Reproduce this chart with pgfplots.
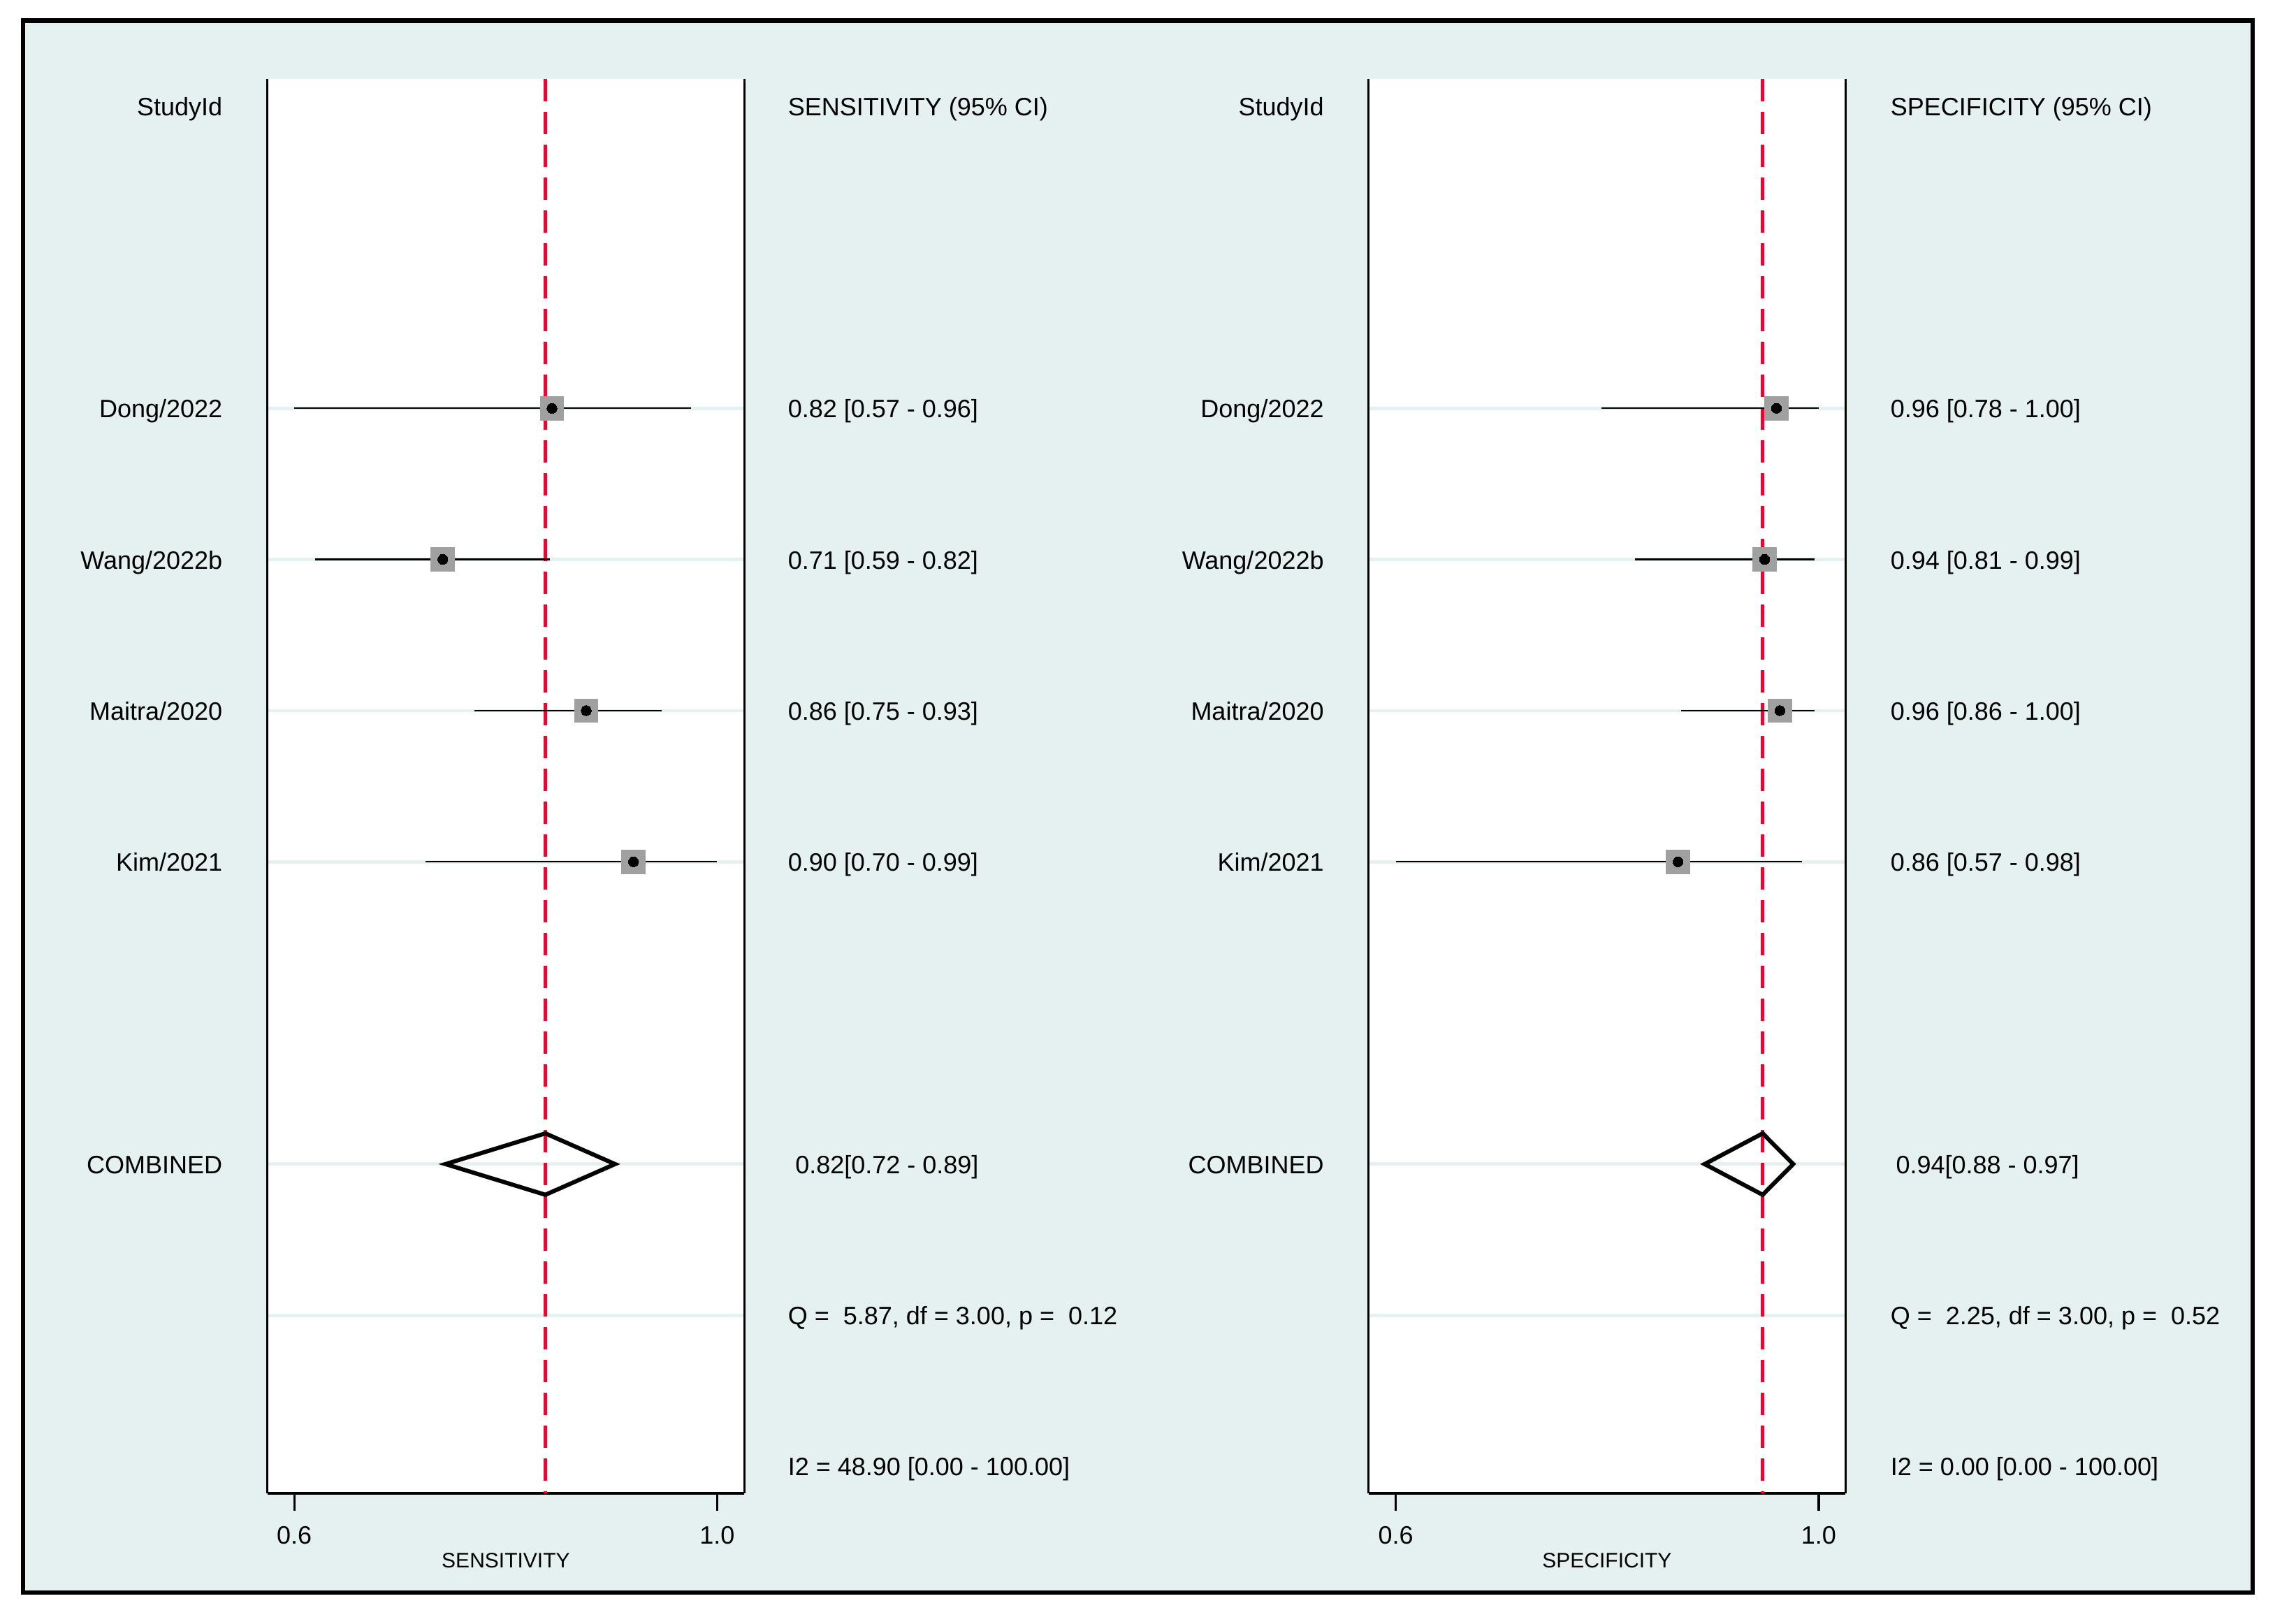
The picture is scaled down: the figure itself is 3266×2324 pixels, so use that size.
\documentclass[border=0pt]{standalone}
\usepackage{fontspec}
\setmainfont{Liberation Sans}
\usepackage{pgfplots}
\pgfplotsset{compat=1.18}
\usepackage{pgfplotstable}

\definecolor{panelbg}{RGB}{229,240,240}
\definecolor{refred}{RGB}{225,10,50}
\definecolor{boxgray}{RGB}{160,160,160}

\newcommand\fs{\fontsize{9bp}{11bp}\selectfont}
\newcommand\fss{\fontsize{7.5bp}{9bp}\selectfont}

% row: 2 = Dong/2022, 3 = Wang/2022b, 4 = Maitra/2020, 5 = Kim/2021
\pgfplotstableread{
row est lo hi
2 0.826 0.570 0.964
3 0.7175 0.591 0.824
4 0.860 0.749 0.935
5 0.907 0.700 0.990
}\sens

\pgfplotstableread{
row est lo hi
2 0.957 0.779 1.000
3 0.945 0.813 0.9955
4 0.9605 0.860 0.9957
5 0.857 0.570 0.983
}\spec

\pgfplotsset{
  forest/.style={
    scale only axis, width=170.7bp, height=506bp,
    anchor=south west,
    y dir=reverse, ymin=-0.179, ymax=9.178,
    axis x line*=bottom, axis y line*=box,
    axis line style={line width=0.85bp, black},
    axis background/.style={fill=white},
    ytick={2,3,4,5,7,8}, yticklabels={}, ytick style={draw=none},
    ymajorgrids, major grid style={draw=panelbg, line width=1.2bp},
    tick align=outside, major tick length=6.25bp,
    xtick style={black, line width=0.85bp},
    xticklabels={0.6,1.0},
    xticklabel style={font=\fs, anchor=base, inner sep=0pt, yshift=-11.9bp},
    xlabel style={font=\fss, at={(axis description cs:0.5,0)}, anchor=base,
      yshift=-26.6bp, inner sep=0pt},
  },
  ci/.style={only marks, mark=none,
    error bars/.cd, x dir=both, x explicit, error mark=none,
    error bar style={draw=black, line width=0.6bp}},
  sqmark/.style={boxgray, only marks, mark=square*, mark size=4.2bp,
    mark options={fill=boxgray, draw=boxgray, line width=0pt}},
  dotmark/.style={black, only marks, mark=*, mark size=1.8bp,
    mark options={fill=black, draw=black, line width=0pt}},
}

\begin{document}
\begin{tikzpicture}[x=0.25bp, y=0.25bp]
\fill[white] (0,0) rectangle (3266,2324);
\filldraw[fill=panelbg, draw=black, line width=1.6bp] (33,45) rectangle (3224,2294.5);

% sensitivity panel
\begin{axis}[forest, at={(95.625bp,46.75bp)}, xmin=0.54313, xmax=1.01708,
  xtick={0.57,0.99}, xlabel={SENSITIVITY}]
\addplot[refred, line width=1.2bp, dash pattern=on 8bp off 3.75bp]
  coordinates {(0.8194,-0.179) (0.8194,9.178)};
\addplot[ci] table[x=est, y=row,
  x error plus expr=\thisrow{hi}-\thisrow{est},
  x error minus expr=\thisrow{est}-\thisrow{lo}] {\sens};
\addplot[sqmark] table[x=est, y=row] {\sens};
\addplot[dotmark] table[x=est, y=row] {\sens};
\addplot[black, line width=1.5bp]
  coordinates {(0.7202,7) (0.8194,6.797) (0.8886,7) (0.8194,7.203)} -- cycle;
\end{axis}

% specificity panel
\begin{axis}[forest, at={(489.625bp,46.75bp)}, xmin=0.54223, xmax=1.02727,
  xtick={0.57,1.00}, xlabel={SPECIFICITY}]
\addplot[refred, line width=1.2bp, dash pattern=on 8bp off 3.75bp]
  coordinates {(0.943,-0.179) (0.943,9.178)};
\addplot[ci] table[x=est, y=row,
  x error plus expr=\thisrow{hi}-\thisrow{est},
  x error minus expr=\thisrow{est}-\thisrow{lo}] {\spec};
\addplot[sqmark] table[x=est, y=row] {\spec};
\addplot[dotmark] table[x=est, y=row] {\spec};
\addplot[black, line width=1.5bp]
  coordinates {(0.884,7) (0.943,6.797) (0.974,7) (0.943,7.203)} -- cycle;
\end{axis}

\begin{scope}[every node/.style={font=\fs, inner sep=0pt}]
% left text columns
\node[anchor=base east] at (319,2158.8) {StudyId};
\node[anchor=base east] at (319,1726.2) {Dong/2022};
\node[anchor=base east] at (319,1509.9) {Wang/2022b};
\node[anchor=base east] at (319,1293.6) {Maitra/2020};
\node[anchor=base east] at (319,1077.3) {Kim/2021};
\node[anchor=base east] at (319,644.7) {COMBINED};

\node[anchor=base west] at (1127,2158.8) {SENSITIVITY (95\% CI)};
\node[anchor=base west] at (1127,1726.2) {0.82 [0.57 - 0.96]};
\node[anchor=base west] at (1127,1509.9) {0.71 [0.59 - 0.82]};
\node[anchor=base west] at (1127,1293.6) {0.86 [0.75 - 0.93]};
\node[anchor=base west] at (1127,1077.3) {0.90 [0.70 - 0.99]};
\node[anchor=base west] at (1137.5,644.7) {0.82[0.72 - 0.89]};
\node[anchor=base west] at (1127,428.4) {Q = \ 5.87, df = 3.00, p = \ 0.12};
\node[anchor=base west] at (1127,212.1) {I2 = 48.90 [0.00 - 100.00]};

% right text columns
\node[anchor=base east] at (1895.4,2158.8) {StudyId};
\node[anchor=base east] at (1895.4,1726.2) {Dong/2022};
\node[anchor=base east] at (1895.4,1509.9) {Wang/2022b};
\node[anchor=base east] at (1895.4,1293.6) {Maitra/2020};
\node[anchor=base east] at (1895.4,1077.3) {Kim/2021};
\node[anchor=base east] at (1895.4,644.7) {COMBINED};

\node[anchor=base west] at (2705,2158.8) {SPECIFICITY (95\% CI)};
\node[anchor=base west] at (2705,1726.2) {0.96 [0.78 - 1.00]};
\node[anchor=base west] at (2705,1509.9) {0.94 [0.81 - 0.99]};
\node[anchor=base west] at (2705,1293.6) {0.96 [0.86 - 1.00]};
\node[anchor=base west] at (2705,1077.3) {0.86 [0.57 - 0.98]};
\node[anchor=base west] at (2712.7,644.7) {0.94[0.88 - 0.97]};
\node[anchor=base west] at (2705,428.4) {Q = \ 2.25, df = 3.00, p = \ 0.52};
\node[anchor=base west] at (2705,212.1) {I2 = 0.00 [0.00 - 100.00]};
\end{scope}
\end{tikzpicture}
\end{document}
